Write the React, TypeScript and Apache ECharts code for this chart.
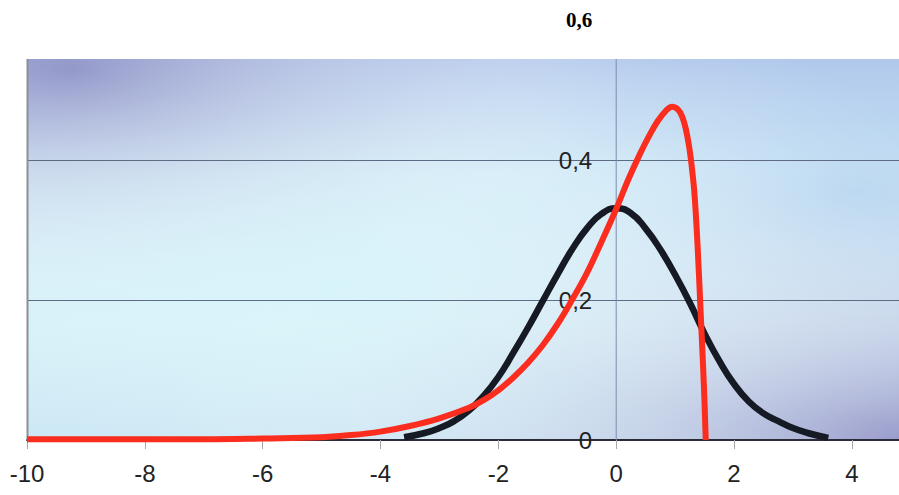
import React, { useEffect, useRef } from "react";
import * as echarts from "echarts";

// Symmetric (normal) density, black curve
const blackX = [-3.6, -3.25, -3, -2.75, -2.5, -2.25, -2, -1.75, -1.5, -1.25, -1, -0.75, -0.5, -0.25, 0, 0.25, 0.5, 0.75, 1, 1.25, 1.5, 1.75, 2, 2.25, 2.5, 2.75, 3, 3.25, 3.6];
const blackY = [0.004, 0.010, 0.017, 0.027, 0.042, 0.063, 0.090, 0.124, 0.160, 0.198, 0.236, 0.272, 0.302, 0.323, 0.331, 0.324, 0.302, 0.272, 0.236, 0.196, 0.152, 0.113, 0.080, 0.055, 0.038, 0.027, 0.017, 0.010, 0.003];

// Skewed density with a long left tail and a sharp upper bound, red curve
const redX = [-10, -9, -8, -7, -6, -5.5, -5, -4.5, -4, -3.5, -3, -2.5, -2.25, -2, -1.75, -1.5, -1.25, -1, -0.75, -0.5, -0.25, 0, 0.2, 0.4, 0.55, 0.7, 0.85, 0.95, 1.05, 1.12, 1.18, 1.24, 1.29, 1.33, 1.38, 1.44, 1.49, 1.52];
const redY = [0.001, 0.001, 0.001, 0.001, 0.002, 0.003, 0.004, 0.007, 0.012, 0.020, 0.031, 0.046, 0.057, 0.071, 0.089, 0.110, 0.135, 0.165, 0.200, 0.238, 0.283, 0.330, 0.371, 0.408, 0.433, 0.455, 0.471, 0.476, 0.472, 0.462, 0.445, 0.418, 0.385, 0.350, 0.280, 0.170, 0.075, 0];

// Axis ranges
const xMin = -10;
const xMax = 4.8;
const xStep = 2;
const yMin = 0;
const yMax = 0.6;
const yStep = 0.2;

const zip = (xs: number[], ys: number[]) => xs.map((x, i) => [x, ys[i]]);

export default function App() {
  const ref = useRef<HTMLDivElement>(null);

  useEffect(() => {
    if (!ref.current) return;
    const chart = echarts.init(ref.current, undefined, { renderer: "svg" });

    const yAxisOpt = (offset: number): any => ({
      type: "value",
      min: yMin,
      max: yMax,
      interval: yStep,
      offset,
      axisLine: { show: false, onZero: false },
      axisTick: { show: false },
      splitLine: {
        show: true,
        showMinLine: false,
        showMaxLine: false,
        lineStyle: { color: "#5d6c82", width: 1.2 },
      },
      axisLabel: {
        show: true,
        margin: 24,
        fontFamily: "Liberation Sans",
        fontSize: 24,
        color: "#222",
        formatter: (v: number) => {
          const s = String(Math.round(v * 10) / 10).replace(".", ",");
          return Math.abs(v - yMax) < 1e-9 ? "{top|" + s + "}" : s;
        },
        rich: {
          top: {
            fontFamily: "Liberation Serif",
            fontWeight: "bold",
            fontSize: 21,
            color: "#000",
          },
        },
      },
    });

    const option: any = {
      animation: false,
      grid: { left: 27, right: 0, top: 20, bottom: 55, containLabel: false, outerBoundsMode: "none" },
      xAxis: {
        type: "value",
        min: xMin,
        max: xMax,
        interval: xStep,
        axisLine: { show: true, onZero: false, lineStyle: { color: "#2a2c38", width: 2 } },
        axisTick: { show: true, length: 9, lineStyle: { color: "#a8a8a8", width: 1 } },
        splitLine: { show: false },
        axisLabel: {
          show: true,
          showMaxLabel: false,
          margin: 21,
          fontFamily: "Liberation Sans",
          fontSize: 24,
          color: "#222",
          formatter: (v: number) => (Math.abs(v % xStep) < 1e-9 ? String(v) : ""),
        },
      },
      yAxis: yAxisOpt(0),
      series: [
        {
          type: "line",
          data: zip(blackX, blackY),
          smooth: 0.5,
          showSymbol: false,
          lineStyle: { color: "#161a24", width: 6.5 },
          z: 3,
        },
        {
          type: "line",
          data: zip(redX, redY),
          smooth: 0.4,
          showSymbol: false,
          lineStyle: { color: "#fa2d1e", width: 6 },
          z: 4,
        },
      ],
    };

    chart.setOption(option);

    // Backdrop, reference lines and the value axis placed from the x scale
    const x0 = chart.convertToPixel({ xAxisIndex: 0 }, 0) as number;
    const xLeft = chart.convertToPixel({ xAxisIndex: 0 }, xMin) as number;
    const xRight = chart.convertToPixel({ xAxisIndex: 0 }, xMax) as number;
    const yBase = chart.convertToPixel({ yAxisIndex: 0 }, 0) as number;
    const bgTop = 59;
    const w = xRight - xLeft;
    const h = yBase - bgTop;

    const radial = (cx: number, cy: number, r: number, c: string) =>
      new echarts.graphic.RadialGradient(cx, cy, r, [
        { offset: 0, color: c },
        { offset: 1, color: "rgba(255,255,255,0)" },
      ]);

    chart.setOption({
      yAxis: yAxisOpt(-(x0 - xLeft)),
      graphic: [
        {
          type: "rect",
          z: -20,
          shape: { x: xLeft, y: bgTop, width: w, height: h },
          style: {
            fill: new echarts.graphic.LinearGradient(0, 0, 0, 1, [
              { offset: 0, color: "#a9c2ea" },
              { offset: 0.3, color: "#c8e6f5" },
              { offset: 0.7, color: "#cfeef7" },
              { offset: 1, color: "#c2e2f2" },
            ]),
          },
        },
        {
          type: "rect",
          z: -19,
          shape: { x: xLeft, y: bgTop, width: w, height: h },
          style: { fill: radial(0.05, 0.03, 0.65, "rgba(122,120,182,0.75)") },
        },
        {
          type: "rect",
          z: -18,
          shape: { x: xLeft, y: bgTop, width: w, height: h },
          style: { fill: radial(1, 1, 0.85, "rgba(140,136,192,0.8)") },
        },
        {
          type: "rect",
          z: -17,
          shape: { x: xLeft, y: bgTop, width: w, height: h },
          style: { fill: radial(0.95, 0.35, 0.6, "rgba(150,188,232,0.45)") },
        },
        {
          type: "rect",
          z: -16,
          shape: { x: xLeft, y: bgTop, width: w, height: h },
          style: { fill: radial(0.35, 0.6, 0.8, "rgba(220,248,252,0.6)") },
        },
        {
          type: "line",
          z: 1,
          shape: { x1: x0, y1: bgTop, x2: x0, y2: yBase },
          style: { stroke: "#7d8cab", lineWidth: 1 },
        },
        {
          type: "line",
          z: 1,
          shape: { x1: xLeft + 0.5, y1: bgTop, x2: xLeft + 0.5, y2: yBase },
          style: { stroke: "#8c8f98", lineWidth: 2 },
        },
      ],
    });

    return () => chart.dispose();
  }, []);

  return (
    <div
      ref={ref}
      style={{ position: "fixed", left: 0, top: 0, width: 899, height: 495, background: "#fff" }}
    />
  );
}
